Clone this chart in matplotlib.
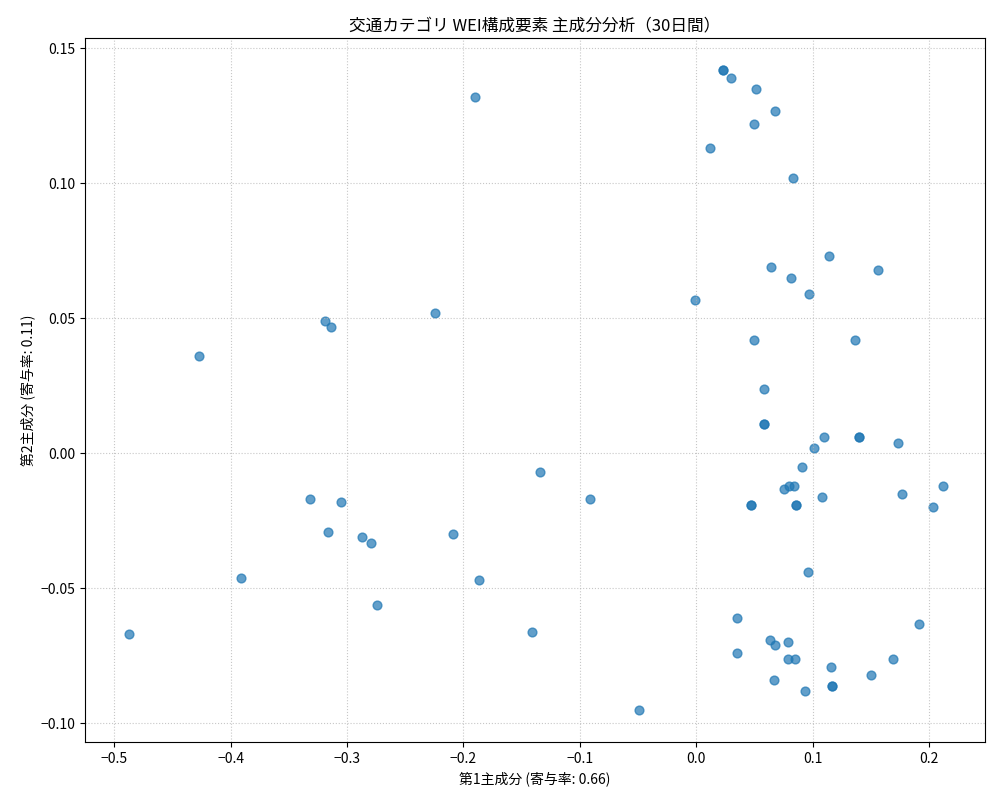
import matplotlib
matplotlib.use("Agg")
import matplotlib.pyplot as plt

plt.rcParams['font.family'] = ['Noto Sans CJK JP', 'DejaVu Sans']

pc1 = [0.023,0.023,0.030,0.051,0.068,0.050,0.012,0.083,-0.190,0.114,0.064,0.156,0.081,0.097,-0.001,
       -0.224,-0.319,-0.314,0.050,0.136,-0.427,0.058,0.058,0.058,0.110,0.140,0.140,0.173,0.101,0.091,-0.134,
       0.075,0.080,0.084,0.177,0.212,0.108,0.047,0.047,0.086,0.086,-0.091,0.203,-0.332,-0.305,-0.316,
       -0.287,-0.279,-0.209,0.096,-0.391,-0.187,-0.274,0.035,0.191,-0.141,0.063,0.079,0.068,0.035,
       0.085,0.079,0.116,0.169,-0.487,0.150,0.117,0.117,0.067,0.093,-0.049]
pc2 = [0.142,0.142,0.139,0.135,0.127,0.122,0.113,0.102,0.132,0.073,0.069,0.068,0.065,0.059,0.057,
       0.052,0.049,0.047,0.042,0.042,0.036,0.024,0.011,0.011,0.006,0.006,0.006,0.004,0.002,-0.005,-0.007,
       -0.013,-0.012,-0.012,-0.015,-0.012,-0.016,-0.019,-0.019,-0.019,-0.019,-0.017,-0.020,-0.017,-0.018,-0.029,
       -0.031,-0.033,-0.030,-0.044,-0.046,-0.047,-0.056,-0.061,-0.063,-0.066,-0.069,-0.070,-0.071,-0.074,
       -0.076,-0.076,-0.079,-0.076,-0.067,-0.082,-0.086,-0.086,-0.084,-0.088,-0.095]

fig, ax = plt.subplots(figsize=(10, 8), dpi=100)
ax.scatter(pc1, pc2, color='#1f77b4', alpha=0.7, s=40)
ax.set_title('交通カテゴリ WEI構成要素 主成分分析（30日間）')
ax.set_xlabel('第1主成分 (寄与率: 0.66)')
ax.set_ylabel('第2主成分 (寄与率: 0.11)')
ax.grid(True, linestyle=':', alpha=0.7)
ax.set_xlim(-0.525, 0.248)
ax.set_ylim(-0.107, 0.1537)
fig.subplots_adjust(left=0.085, right=0.985, top=0.952, bottom=0.072)
fig.savefig('out.png')
